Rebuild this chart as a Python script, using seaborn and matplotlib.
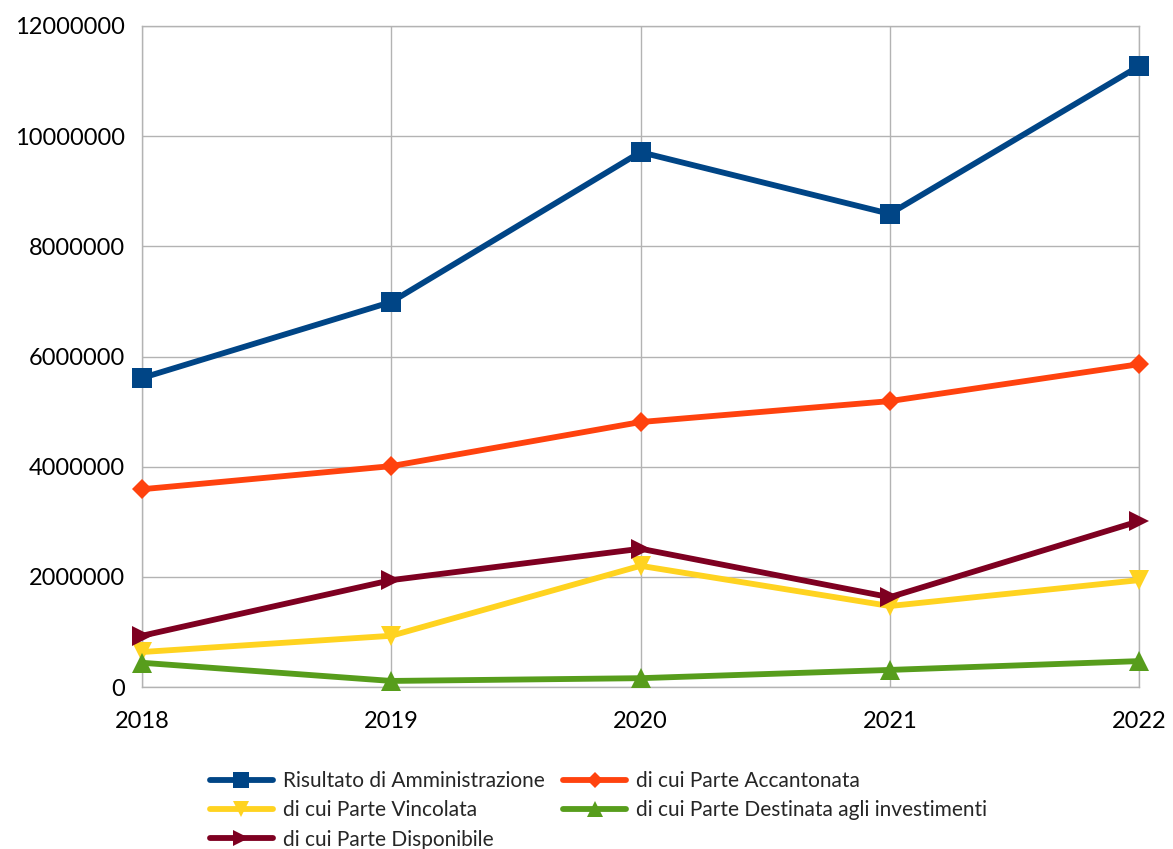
import matplotlib
matplotlib.use("Agg")
import matplotlib.pyplot as plt
import numpy as np
import pandas as pd
import seaborn as sns
from matplotlib.ticker import FuncFormatter

years = [2018, 2019, 2020, 2021, 2022]
risultato = [5610000, 6990000, 9710000, 8590000, 11270000]
accantonata = [3590000, 4010000, 4810000, 5190000, 5860000]
vincolata = [635000, 930000, 2200000, 1470000, 1940000]
investimenti = [440000, 110000, 160000, 310000, 470000]
disponibile = [930000, 1940000, 2510000, 1630000, 3010000]

series_names = [
    "Risultato di Amministrazione",
    "di cui Parte Accantonata",
    "di cui Parte Vincolata",
    "di cui Parte Destinata agli investimenti",
    "di cui Parte Disponibile",
]
series_values = [risultato, accantonata, vincolata, investimenti, disponibile]
colors = ["#004586", "#ff420e", "#ffd320", "#579d1c", "#7e0021"]
markers = ["s", "D", "v", "^", ">"]
sizes = [15, 10, 15, 15, 15]

df = pd.DataFrame(
    [(n, y, v) for n, vals in zip(series_names, series_values) for y, v in zip(years, vals)],
    columns=["serie", "anno", "valore"],
)

sns.set_style("white")
plt.rcParams["font.family"] = ["Lato", "DejaVu Sans"]

fig = plt.figure(figsize=(11.73, 8.49), dpi=100)
ax = fig.add_axes([142 / 1173, 1 - 687 / 849, (1139 - 142) / 1173, (687 - 26) / 849])

for name, color, marker, ms in zip(series_names, colors, markers, sizes):
    sns.lineplot(
        data=df[df["serie"] == name],
        x="anno",
        y="valore",
        color=color,
        marker=marker,
        markersize=ms,
        markeredgewidth=0,
        linewidth=4.2,
        label=name,
        ax=ax,
        clip_on=False,
        zorder=3,
    )

ax.set_xlim(2018, 2022)
ax.set_ylim(0, 12000000)
ax.set_xticks(years)
ax.set_yticks(np.arange(0, 12000001, 2000000))
ax.yaxis.set_major_formatter(FuncFormatter(lambda v, p: f"{v:.0f}"))
ax.set_xlabel("")
ax.set_ylabel("")
ax.grid(True, color="#b3b3b3", linewidth=1)
for s in ax.spines.values():
    s.set_color("#b3b3b3")
    s.set_linewidth(1)
ax.tick_params(axis="both", length=8, width=1, color="#b3b3b3", labelsize=17, labelcolor="black", pad=4)
ax.tick_params(axis="x", pad=9)

# legend fills row by row in the reference: reorder for column-wise filling
handles, labels = ax.get_legend_handles_labels()
order = [0, 2, 4, 1, 3]
ax.legend(
    [handles[i] for i in order],
    [labels[i] for i in order],
    ncol=2,
    loc="upper left",
    bbox_to_anchor=(210 / 1173, 1 - 771 / 849),
    bbox_transform=fig.transFigure,
    frameon=False,
    fontsize=15,
    handlelength=3.0,
    handletextpad=0.5,
    columnspacing=0.9,
    labelspacing=0.45,
    markerscale=0.8,
    borderaxespad=0,
    borderpad=0,
)

fig.savefig("out.png", dpi=100)
